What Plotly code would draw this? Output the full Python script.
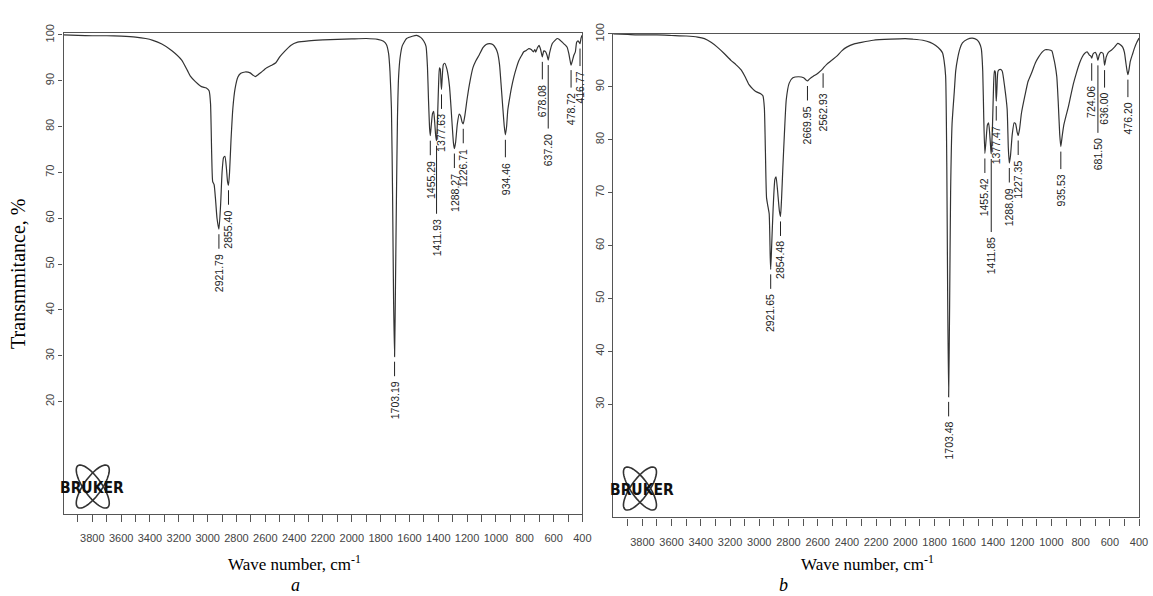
import numpy as np
import plotly.graph_objects as go

# ---------------- data: panel a ----------------
wn_a = [4000, 3900, 3800, 3700, 3600, 3500, 3430, 3380, 3318, 3250, 3180, 3140, 3120, 3085, 3043, 3009,
        2990, 2980, 2972, 2965, 2955, 2945, 2935, 2921.79, 2910, 2900, 2890, 2880, 2870, 2862, 2855.40,
        2848, 2838, 2825, 2810, 2790, 2770, 2740, 2705, 2685, 2669, 2650, 2630, 2590, 2560, 2527, 2500,
        2466, 2424, 2376, 2300, 2200, 2100, 2000, 1900, 1820, 1780, 1760, 1745, 1735, 1725, 1717, 1710,
        1703.19, 1697, 1690, 1683, 1675, 1665, 1650, 1620, 1580, 1550, 1520, 1500, 1485, 1475, 1468,
        1460, 1455.29, 1448, 1440, 1432, 1425, 1418, 1411.93, 1405, 1398, 1392, 1386, 1381, 1377.63,
        1373, 1365, 1355, 1340, 1322, 1305, 1295, 1288.27, 1280, 1268, 1255, 1245, 1235, 1226.71, 1215,
        1200, 1185, 1160, 1140, 1116, 1090, 1068, 1045, 1022, 1000, 988, 975, 965, 952, 942, 934.46,
        926, 918, 910, 892, 875, 858, 839, 820, 807, 790, 772, 755, 740, 730, 724, 712, 701, 690,
        678.08, 668, 655, 645, 637.20, 628, 609, 590, 575, 560, 540, 520, 506, 495, 485, 478.72, 470,
        460, 449, 440, 430, 421, 416.77, 410, 404]
tr_a = [100.0, 99.9, 99.8, 99.8, 99.7, 99.5, 99.2, 98.8, 98.0, 96.6, 94.5, 92.2, 91.0, 89.8, 88.7, 88.4,
        87.8, 85.0, 74.0, 68.0, 67.3, 64.0, 60.0, 57.6, 63.0, 70.0, 73.2, 73.5, 71.0, 68.0, 67.2,
        70.0, 77.0, 84.0, 88.2, 90.8, 91.6, 91.9, 91.7, 91.2, 90.9, 91.3, 91.8, 92.8, 93.3, 93.9, 95.2,
        96.4, 97.7, 98.4, 98.7, 98.9, 99.0, 99.1, 99.2, 99.0, 98.6, 97.9, 96.0, 92.0, 84.0, 65.0, 42.0,
        29.8, 45.0, 65.0, 82.0, 91.0, 95.0, 97.6, 99.2, 99.7, 99.9, 99.4, 98.6, 97.5, 93.0, 86.0,
        79.5, 78.0, 80.5, 82.8, 83.3, 81.0, 78.0, 76.9, 82.0, 89.0, 92.8, 92.5, 89.5, 88.1,
        90.5, 93.5, 93.8, 92.5, 88.7, 81.0, 76.5, 75.2, 76.5, 80.5, 82.7, 82.3, 81.0, 80.6, 82.5,
        86.0, 89.0, 92.8, 94.3, 95.6, 97.2, 97.9, 98.1, 97.9, 97.0, 96.0, 93.5, 89.5, 84.0, 80.0, 78.2,
        80.0, 83.5, 85.2, 88.5, 90.9, 92.8, 94.5, 95.6, 96.3, 96.6, 97.0, 96.8, 96.3, 96.8, 96.2, 97.2, 97.7, 96.8,
        95.2, 96.5, 96.3, 95.5, 94.5, 96.0, 98.1, 98.8, 99.2, 99.0, 98.4, 97.8, 97.3, 96.0, 94.3, 93.4, 94.3,
        95.5, 96.3, 98.4, 98.7, 98.3, 98.1, 99.2, 99.9]

peak_wn_a = [2921.79, 2855.40, 1703.19, 1455.29, 1411.93, 1377.63, 1288.27, 1226.71, 934.46,
             678.08, 637.20, 478.72, 416.77]
peak_tr_a = [57.6, 67.2, 29.8, 78.0, 76.9, 88.1, 75.2, 80.6, 78.2, 95.2, 94.5, 93.4, 98.1]
peak_lbl_a = ["2921.79", "2855.40", "1703.19", "1455.29", "1411.93", "1377.63", "1288.27", "1226.71",
              "934.46", "678.08", "637.20", "478.72", "416.77"]

# ---------------- data: panel b ----------------
wn_b = [4000, 3900, 3800, 3700, 3600, 3500, 3422, 3375, 3330, 3287, 3240, 3194, 3160, 3124, 3095, 3070,
        3045, 3024, 2990, 2975, 2965, 2958, 2950, 2940, 2932, 2925, 2921.65, 2915, 2905, 2893, 2885,
        2875, 2862, 2854.48, 2847, 2838, 2828, 2815, 2795, 2770, 2730, 2696, 2680, 2669.95, 2655, 2630,
        2605, 2580, 2562.93, 2540, 2505, 2469, 2435, 2401, 2350, 2300, 2220, 2100, 2000, 1950, 1880,
        1830, 1792, 1760, 1745, 1735, 1724, 1716, 1710, 1703.48, 1697, 1690, 1680, 1665, 1655, 1643,
        1625, 1609, 1575, 1541, 1510, 1495, 1480, 1470, 1463, 1455.42, 1447, 1438, 1430, 1422, 1415,
        1411.85, 1404, 1396, 1390, 1384, 1380, 1377.47, 1373, 1365, 1350, 1337, 1320, 1303, 1295,
        1288.09, 1280, 1268, 1255, 1245, 1235, 1227.35, 1218, 1205, 1180, 1160, 1133, 1110, 1088, 1065,
        1043, 1020, 997, 985, 975, 963, 953, 943, 935.53, 927, 915, 900, 884, 870, 850, 830, 807, 790,
        773, 755, 740, 730, 724.06, 715, 700, 690, 681.50, 672, 660, 646, 636.00, 625, 610, 590, 565,
        546, 530, 512, 500, 490, 482, 476.20, 470, 460, 443, 430, 415, 400]
tr_b = [100.0, 99.9, 99.8, 99.8, 99.7, 99.6, 99.4, 99.1, 98.4, 97.5, 96.3, 95.0, 94.2, 93.2, 91.8, 90.4,
        89.6, 89.1, 88.7, 88.3, 86.0, 78.0, 69.0, 67.3, 66.0, 58.0, 55.5, 60.0, 67.0, 72.5, 73.0,
        70.5, 66.5, 65.5, 69.0, 75.0, 81.0, 87.6, 90.7, 91.7, 91.9, 91.7, 91.3, 91.1, 91.5, 92.0,
        92.4, 93.0, 93.5, 94.2, 95.0, 95.8, 96.8, 97.5, 98.1, 98.4, 98.8, 99.0, 99.1, 99.0, 98.8,
        98.4, 97.8, 97.0, 96.4, 95.0, 92.0, 75.0, 50.0, 31.4, 48.0, 70.0, 83.0, 89.0, 93.0, 95.2,
        97.3, 98.3, 99.0, 99.2, 98.9, 98.4, 97.2, 93.0, 84.0, 77.4, 80.0, 82.8, 83.2, 81.0, 78.2,
        77.3, 82.0, 90.0, 93.0, 92.8, 89.0, 87.3, 89.5, 93.0, 93.3, 93.0, 90.0, 85.8, 78.5,
        75.6, 77.0, 81.0, 83.2, 83.0, 81.5, 80.8, 82.0, 85.0, 88.5, 91.0, 92.8, 94.5, 95.6, 96.5,
        97.0, 97.0, 96.8, 95.5, 94.2, 91.9, 87.0, 81.0, 78.7, 80.5, 82.8, 84.5, 86.2, 88.0, 90.5, 92.5, 94.5, 95.6,
        96.3, 96.6, 96.0, 95.8, 95.4, 96.2, 96.5, 96.0, 95.0, 96.0, 96.5, 96.3, 94.1, 95.6, 96.5, 96.9, 97.6,
        98.2, 98.0, 97.5, 96.5, 94.5, 93.0, 92.3, 93.0, 94.8, 96.3, 97.4, 98.4, 99.2]

peak_wn_b = [2921.65, 2854.48, 2669.95, 2562.93, 1703.48, 1455.42, 1411.85, 1377.47, 1288.09, 1227.35,
             935.53, 724.06, 681.50, 636.00, 476.20]
peak_tr_b = [55.5, 65.5, 91.1, 93.5, 31.4, 77.4, 77.3, 87.3, 75.6, 80.8, 78.7, 95.4, 95.0, 94.1, 92.3]
peak_lbl_b = ["2921.65", "2854.48", "2669.95", "2562.93", "1703.48", "1455.42", "1411.85", "1377.47",
              "1288.09", "1227.35", "935.53", "724.06", "681.50", "636.00", "476.20"]

# ---------------- axis ticks ----------------
x_tickvals = [3800, 3600, 3400, 3200, 3000, 2800, 2600, 2400, 2200, 2000, 1800, 1600, 1400, 1200,
              1000, 800, 600, 400]
x_minorvals = [3900, 3700, 3500, 3300, 3100, 2900, 2700, 2500, 2300, 2100, 1900, 1700, 1500, 1300,
               1100, 900, 700, 500]
y_tickvals_a = [20, 30, 40, 50, 60, 70, 80, 90, 100]
y_tickvals_b = [30, 40, 50, 60, 70, 80, 90, 100]

# ---------------- layout constants (style / positions) ----------------
W, H = 1153, 596
LINE = "#333333"
AX = "#555555"
LONG_LEADER = {"1411.93": 97, "637.20": 90, "1411.85": 102, "681.50": 94}
DEFAULT_AY = 44


def px_x(p):
    return p / W


def px_y(p):
    return (H - p) / H


fig = go.Figure()
fig.add_trace(go.Scatter(x=wn_a, y=tr_a, mode="lines", xaxis="x", yaxis="y",
                         line=dict(color=LINE, width=1.2, shape="spline", smoothing=0.5),
                         hoverinfo="skip", showlegend=False))
fig.add_trace(go.Scatter(x=wn_b, y=tr_b, mode="lines", xaxis="x2", yaxis="y2",
                         line=dict(color=LINE, width=1.2, shape="spline", smoothing=0.5),
                         hoverinfo="skip", showlegend=False))

tickfont_x = dict(family="Liberation Sans, Arial, sans-serif", size=11, color="#444444")
tickfont_y = dict(family="Liberation Sans, Arial, sans-serif", size=11, color="#444444")


def xaxis_cfg(domain, anchor):
    return dict(domain=domain, anchor=anchor, range=[4000, 400], showgrid=False, zeroline=False,
                showline=True, linecolor=AX, linewidth=1.4, mirror=True,
                tickmode="array", tickvals=x_tickvals, ticktext=[str(v) for v in x_tickvals],
                ticks="outside", ticklen=7, tickwidth=1.2, tickcolor=AX, tickfont=tickfont_x,
                tickangle=0, ticklabelstandoff=7,
                minor=dict(tickvals=x_minorvals, ticks="outside", ticklen=7, tickwidth=1.2, tickcolor=AX))


def yaxis_cfg(domain, anchor, rng, tv):
    return dict(domain=domain, anchor=anchor, range=rng, showgrid=False, zeroline=False,
                showline=True, linecolor=AX, linewidth=1.4, mirror=True,
                tickmode="array", tickvals=tv, ticktext=[str(v) for v in tv],
                ticks="outside", ticklen=4, tickwidth=1.0, tickcolor=AX, tickangle=-90,
                tickfont=tickfont_y)


fig.update_layout(
    width=W, height=H, margin=dict(l=0, r=0, t=0, b=0),
    paper_bgcolor="white", plot_bgcolor="white", showlegend=False,
    xaxis=xaxis_cfg([px_x(64), px_x(587)], "y"),
    yaxis=yaxis_cfg([px_y(512), px_y(22)], "x", [-4.41, 100.49], y_tickvals_a),
    xaxis2=xaxis_cfg([px_x(618), px_x(1148)], "y2"),
    yaxis2=yaxis_cfg([px_y(516), px_y(23)], "x2", [8.61, 100.06], y_tickvals_b),
)

lblfont = dict(family="Liberation Sans, Arial, sans-serif", size=10.5, color="#222222")
anns = []
for wns, trs, lbls, xr, yr in [(peak_wn_a, peak_tr_a, peak_lbl_a, "x", "y"),
                               (peak_wn_b, peak_tr_b, peak_lbl_b, "x2", "y2")]:
    for w, t, s in zip(wns, trs, lbls):
        ay = LONG_LEADER.get(s, DEFAULT_AY)
        anns.append(dict(x=w, y=t, xref=xr, yref=yr, text=s, textangle=-90, font=lblfont,
                         showarrow=True, arrowhead=0, arrowwidth=1, arrowcolor="#222222",
                         ax=0, ay=ay, standoff=5, startstandoff=5, borderpad=0))

serif = "Liberation Serif, Times New Roman, serif"


def paper_text(text, x, y, font, angle=0):
    return dict(text=text, textangle=angle, x=px_x(x), y=px_y(y), xref="paper", yref="paper",
                xanchor="center", yanchor="middle", showarrow=False, font=font, borderpad=0)


anns.append(paper_text("Transmmitance, %", 18, 268, dict(family=serif, size=20, color="#000000"), -90))
for cx, lx, lt in [(297, 298, "a"), (874, 790, "b")]:
    anns.append(paper_text("Wave number, cm<sup>-1</sup>", cx, 562,
                           dict(family=serif, size=17, color="#000000")))
    anns.append(paper_text("<i>%s</i>" % lt, lx, 585, dict(family=serif, size=18, color="#000000")))

# BRUKER logos (decoration)
shapes = []
for (cxp, cyp, tx) in [(93.5, 484.5, 92.5), (645.0, 486.5, 647.0)]:
    anns.append(paper_text("<b>BRUKER</b>", tx, cyp + 1,
                           dict(family="Liberation Sans Narrow, DejaVu Sans Condensed, sans-serif",
                                size=15.5, color="#111111")))
    for ang in (55, -55):
        th = np.radians(ang)
        tt = np.linspace(0, 2 * np.pi, 60)
        ex = 26 * np.cos(tt)
        ey = 9 * np.sin(tt)
        xs = cxp + ex * np.cos(th) - ey * np.sin(th)
        ys = cyp + ex * np.sin(th) + ey * np.cos(th)
        path = "M " + " L ".join("%.5f,%.5f" % (px_x(a), px_y(b)) for a, b in zip(xs, ys)) + " Z"
        shapes.append(dict(type="path", path=path, xref="paper", yref="paper",
                           line=dict(color="#333333", width=1.6)))

fig.update_layout(annotations=anns, shapes=shapes)
fig.write_html("out.html")
